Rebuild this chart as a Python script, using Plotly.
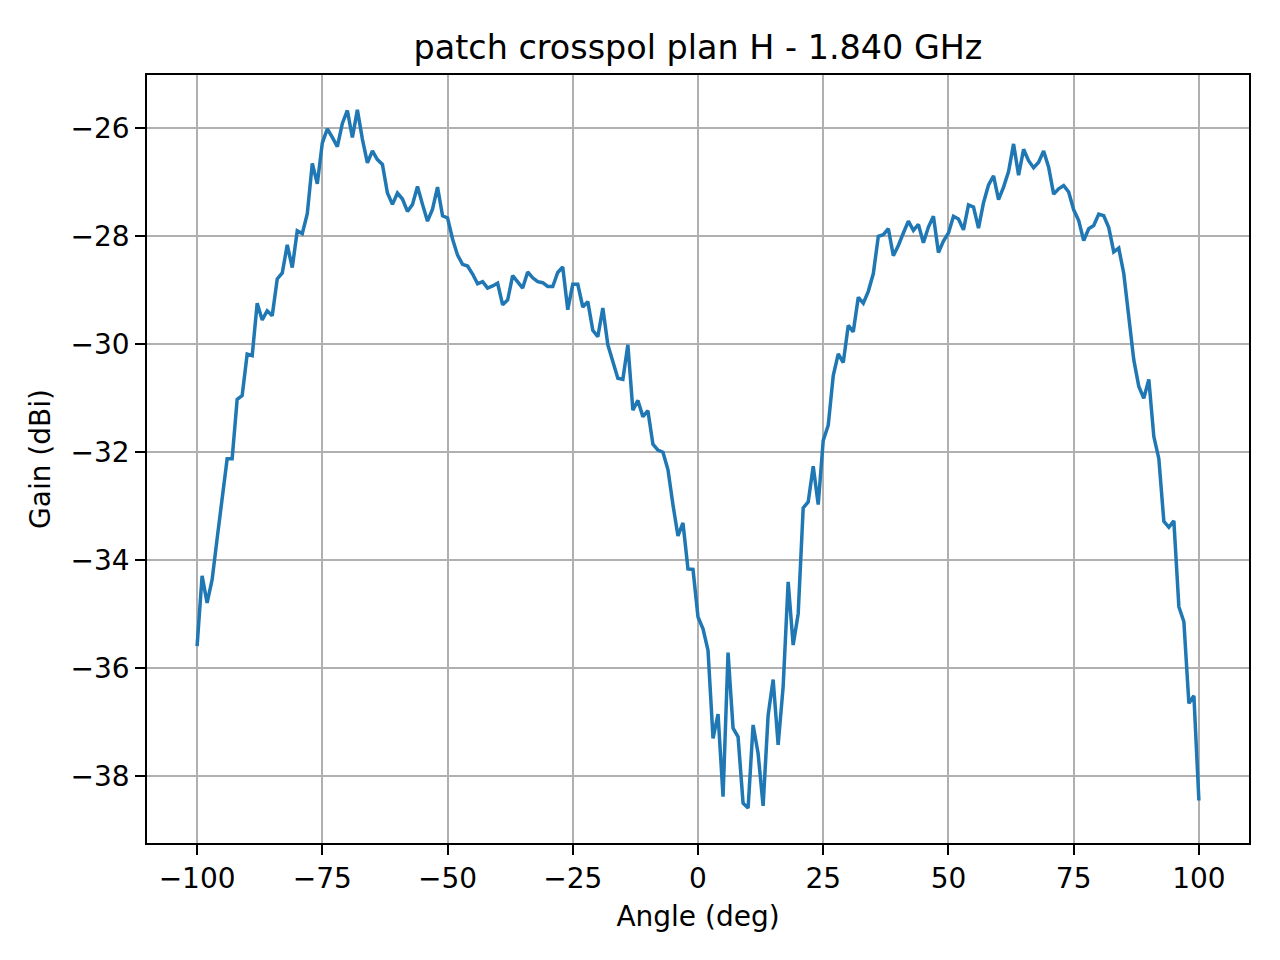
import plotly.graph_objects as go

# measured cross-pol pattern, 1 degree steps
angle_deg = list(range(-100, 101))

gain_dbi = [
    -35.59, -34.29, -34.79, -34.36, -33.60, -32.84, -32.12, -32.12, -31.02, -30.95,   # -100..-91
    -30.18, -30.21, -29.24, -29.55, -29.38, -29.47, -28.79, -28.68, -28.16, -28.58,   # -90..-81
    -27.90, -27.95, -27.58, -26.65, -27.03, -26.27, -26.01, -26.17, -26.34, -25.91,   # -80..-71
    -25.67, -26.17, -25.66, -26.20, -26.64, -26.42, -26.58, -26.67, -27.20, -27.41,   # -70..-61
    -27.20, -27.31, -27.54, -27.41, -27.08, -27.41, -27.72, -27.50, -27.09, -27.62,   # -60..-51
    -27.66, -28.05, -28.35, -28.52, -28.55, -28.70, -28.88, -28.84, -28.96, -28.92,   # -50..-41
    -28.87, -29.27, -29.18, -28.73, -28.84, -28.96, -28.66, -28.77, -28.84, -28.86,   # -40..-31
    -28.93, -28.93, -28.67, -28.57, -29.36, -28.89, -28.89, -29.31, -29.21, -29.74,   # -30..-21
    -29.86, -29.33, -30.01, -30.32, -30.63, -30.65, -30.01, -31.22, -31.04, -31.34,   # -20..-11
    -31.23, -31.85, -31.96, -32.00, -32.32, -32.97, -33.55, -33.31, -34.16, -34.17,   # -10..-1
    -35.05, -35.27, -35.67, -37.30, -36.85, -38.38, -35.71, -37.11, -37.27, -38.50,   # 0..9
    -38.59, -37.05, -37.58, -38.55, -36.87, -36.21, -37.42, -36.34, -34.40, -35.57,   # 10..19
    -34.99, -33.03, -32.92, -32.26, -32.97, -31.78, -31.50, -30.58, -30.18, -30.34,   # 20..29
    -29.65, -29.77, -29.13, -29.24, -29.02, -28.69, -28.00, -27.97, -27.86, -28.36,   # 30..39
    -28.17, -27.94, -27.72, -27.89, -27.78, -28.12, -27.83, -27.63, -28.30, -28.09,   # 40..49
    -27.94, -27.63, -27.68, -27.88, -27.42, -27.46, -27.85, -27.38, -27.05, -26.88,   # 50..59
    -27.32, -27.09, -26.80, -26.29, -26.87, -26.39, -26.60, -26.73, -26.63, -26.42,   # 60..69
    -26.72, -27.22, -27.12, -27.06, -27.18, -27.51, -27.71, -28.08, -27.86, -27.80,   # 70..79
    -27.59, -27.62, -27.84, -28.29, -28.22, -28.69, -29.51, -30.29, -30.78, -31.00,   # 80..89
    -30.65, -31.71, -32.12, -33.28, -33.39, -33.27, -34.86, -35.14, -36.65, -36.51,   # 90..99
    -38.45,                                                                           # 100
]

freq_ghz = 1.840
title_txt = "patch crosspol plan H - %.3f GHz" % freq_ghz

# matplotlib style 5% margins
xpad = (max(angle_deg) - min(angle_deg)) * 0.05
ypad = (max(gain_dbi) - min(gain_dbi)) * 0.05

fig = go.Figure()
fig.add_trace(go.Scatter(x=angle_deg, y=gain_dbi, mode="lines",
                         line=dict(color="#1f77b4", width=3.5),
                         showlegend=False))

axis_common = dict(showgrid=True, gridcolor="#b0b0b0", gridwidth=2,
                   zeroline=False, showline=True, linecolor="black",
                   linewidth=1.6, mirror=True, ticks="outside",
                   ticklen=10, tickwidth=1.6, tickcolor="black",
                   tickfont=dict(size=28, color="black"))

fig.update_xaxes(range=[min(angle_deg) - xpad, max(angle_deg) + xpad],
                 dtick=25, tick0=0,
                 title=dict(text="Angle (deg)", font=dict(size=28, color="black"), standoff=12),
                 **axis_common)
fig.update_yaxes(range=[min(gain_dbi) - ypad, max(gain_dbi) + ypad],
                 dtick=2, tick0=0,
                 title=dict(text="Gain (dBi)", font=dict(size=28, color="black"), standoff=12),
                 **axis_common)

# page body has an 8px margin, so the figure is a bit smaller than the window
fig.update_layout(
    width=1264, height=944,
    margin=dict(l=139, r=23, t=67, b=109),
    plot_bgcolor="white", paper_bgcolor="white",
    font=dict(family="DejaVu Sans", color="black"),
    title=dict(text=title_txt, x=0.5459, xanchor="center",
               y=0.9587, yanchor="middle", font=dict(size=33.4, color="black")),
)

fig.write_html("out.html")
